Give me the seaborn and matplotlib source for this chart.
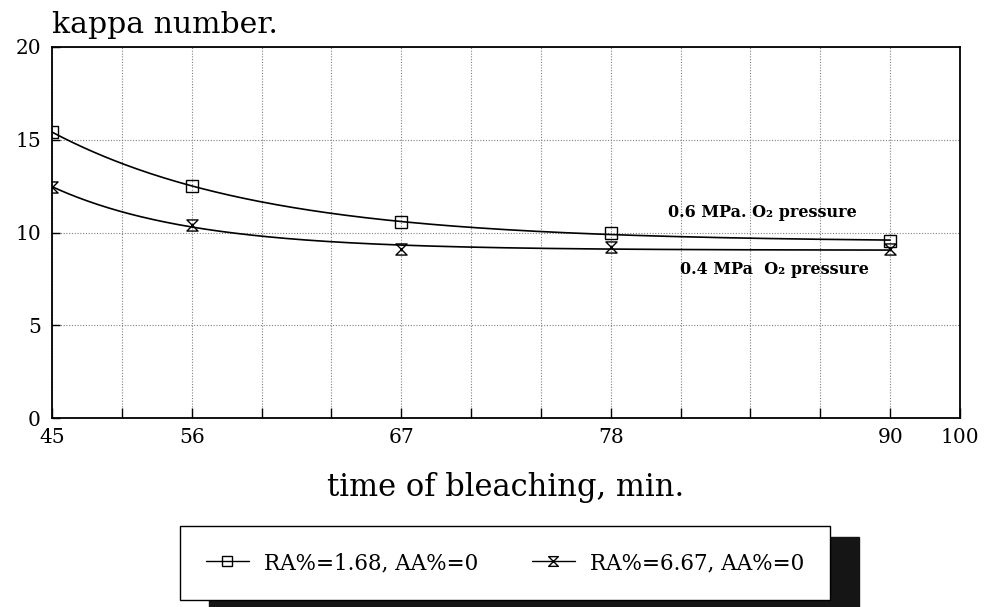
import numpy as np
import pandas as pd
import matplotlib
matplotlib.use("Agg")
import matplotlib.pyplot as plt
from matplotlib.path import Path
from matplotlib.markers import MarkerStyle
from matplotlib.lines import Line2D
from matplotlib.ticker import FixedLocator, NullFormatter, FixedFormatter
import seaborn as sns

# ---------------- data ----------------
time_min = [45, 56, 67, 78, 90]
kappa_06 = [15.42, 12.5, 10.57, 9.97, 9.54]   # RA%=1.68, AA%=0 (0.6 MPa O2)
kappa_04 = [12.45, 10.4, 9.1, 9.2, 9.1]       # RA%=6.67, AA%=0 (0.4 MPa O2)
series_labels = ["RA%=1.68, AA%=0", "RA%=6.67, AA%=0"]
x_tick_labels = [45, 56, 67, 78, 90, 100]
y_ticks = [0, 5, 10, 15, 20]

# ---------------- axis layout (non-uniform time axis of the original) ----------------
tick_grid_index = [0, 2, 5, 8, 12, 13]


def fwd(x):
    x = np.asarray(x, dtype=float)
    y = np.interp(x, x_tick_labels, tick_grid_index)
    lo = (tick_grid_index[1] - tick_grid_index[0]) / (x_tick_labels[1] - x_tick_labels[0])
    hi = (tick_grid_index[-1] - tick_grid_index[-2]) / (x_tick_labels[-1] - x_tick_labels[-2])
    y = np.where(x < x_tick_labels[0], tick_grid_index[0] + (x - x_tick_labels[0]) * lo, y)
    y = np.where(x > x_tick_labels[-1], tick_grid_index[-1] + (x - x_tick_labels[-1]) * hi, y)
    return y


def inv(p):
    p = np.asarray(p, dtype=float)
    x = np.interp(p, tick_grid_index, x_tick_labels)
    lo = (x_tick_labels[1] - x_tick_labels[0]) / (tick_grid_index[1] - tick_grid_index[0])
    hi = (x_tick_labels[-1] - x_tick_labels[-2]) / (tick_grid_index[-1] - tick_grid_index[-2])
    x = np.where(p < tick_grid_index[0], x_tick_labels[0] + (p - tick_grid_index[0]) * lo, x)
    x = np.where(p > tick_grid_index[-1], x_tick_labels[-1] + (p - tick_grid_index[-1]) * hi, x)
    return x


def exp_fit(t, y):
    """least-squares trend y = a + b*exp(-c*u), u = position on the drawn time axis"""
    u = fwd(t)
    y = np.asarray(y, float)
    best = None
    for c in np.linspace(0.01, 1.5, 1500):
        X = np.column_stack([np.ones_like(u), np.exp(-c * (u - u[0]))])
        coef = np.linalg.lstsq(X, y, rcond=None)[0]
        sse = float(((X @ coef - y) ** 2).sum())
        if best is None or sse < best[0]:
            best = (sse, coef, c)
    _, (a, b), c = best
    uu = np.linspace(u[0], u[-1], 400)
    return inv(uu), a + b * np.exp(-c * (uu - u[0]))


sns.set_style("white")
plt.rcParams["font.family"] = ["DejaVu Serif"]
plt.rcParams["text.color"] = "black"
plt.rcParams["axes.labelcolor"] = "black"
plt.rcParams["xtick.color"] = "black"
plt.rcParams["ytick.color"] = "black"

fig = plt.figure(figsize=(9.9, 6.07), dpi=100)
ax = fig.add_axes([52 / 990, 1 - 418 / 607, (960 - 52) / 990, (418 - 47) / 607])
ax.set_xscale("function", functions=(fwd, inv))

hourglass = Path([(-1, 1), (1, 1), (-1, -1), (1, -1), (-1, 1)],
                 [Path.MOVETO, Path.LINETO, Path.LINETO, Path.LINETO, Path.CLOSEPOLY])
markers = ["s", MarkerStyle(hourglass)]
msizes = [8.5, 8.0]

for vals, mk, ms in zip([kappa_06, kappa_04], markers, msizes):
    tt, yy = exp_fit(time_min, vals)
    sns.lineplot(x=tt, y=yy, ax=ax, color="black", linewidth=1.2, legend=False,
                 estimator=None, sort=False)
    df = pd.DataFrame({"t": time_min, "k": vals})
    sns.lineplot(data=df, x="t", y="k", ax=ax, linestyle="none", marker=mk,
                 markersize=ms, markerfacecolor="none", markeredgecolor="black",
                 markeredgewidth=1.0, legend=False, estimator=None)

ax.set_xlim(45, 100)
ax.set_ylim(0, 20)

# ticks & grid
major_x = x_tick_labels
minor_x = [float(v) for v in inv(np.arange(14)) if not np.any(np.isclose(v, major_x))]
ax.xaxis.set_major_locator(FixedLocator(major_x))
ax.xaxis.set_major_formatter(FixedFormatter([str(v) for v in x_tick_labels]))
ax.xaxis.set_minor_locator(FixedLocator(minor_x))
ax.xaxis.set_minor_formatter(NullFormatter())
ax.yaxis.set_major_locator(FixedLocator(y_ticks))
ax.yaxis.set_minor_locator(FixedLocator([]))

ax.tick_params(axis="x", which="both", direction="in", length=7.5, width=1.0,
               bottom=True, top=False, labelsize=14.5, pad=7, colors="black")
ax.tick_params(axis="y", which="both", direction="in", length=6, width=1.0,
               left=True, right=False, labelsize=14.5, pad=8, colors="black")

ax.grid(True, which="both", axis="x", color="#808080", linestyle=(0, (1, 1.5)), linewidth=0.8)
ax.grid(True, which="major", axis="y", color="#808080", linestyle=(0, (1, 1.5)), linewidth=0.8)
ax.set_axisbelow(True)

for s in ax.spines.values():
    s.set_visible(True)
    s.set_color("black")
    s.set_linewidth(1.3)

ax.set_xlabel("time of bleaching, min.", fontsize=22, labelpad=18, color="black")
ax.set_ylabel("")

# annotations
ax.text(0.678, 0.553, "0.6 MPa. O₂ pressure", transform=ax.transAxes,
        fontsize=11.5, fontweight="bold", ha="left", va="center", color="black")
ax.text(0.692, 0.399, "0.4 MPa  O₂ pressure", transform=ax.transAxes,
        fontsize=11.5, fontweight="bold", ha="left", va="center", color="black")

# title at top-left
fig.text(52 / 990, 1 - 33 / 607, "kappa number.", fontsize=21.5, ha="left",
         va="baseline", color="black")

# legend
handles = [Line2D([0], [0], color="black", lw=1.0, marker=m, markersize=7,
                  markerfacecolor="none", markeredgecolor="black", markeredgewidth=1.0)
           for m in markers]
leg = fig.legend(handles, series_labels, loc="center",
                 bbox_to_anchor=(505 / 990, 1 - 563 / 607),
                 bbox_transform=fig.transFigure, ncol=2, fontsize=15.5,
                 frameon=True, fancybox=False, handlelength=2.0, handletextpad=0.7,
                 columnspacing=2.5, borderpad=1.2, borderaxespad=0,
                 shadow={"ox": 21, "oy": -8, "facecolor": "#151515",
                         "edgecolor": "#151515", "alpha": 1})
leg.get_frame().set_edgecolor("black")
leg.get_frame().set_linewidth(1.0)
for t in leg.get_texts():
    t.set_color("black")

fig.savefig("out.png", dpi=100)
